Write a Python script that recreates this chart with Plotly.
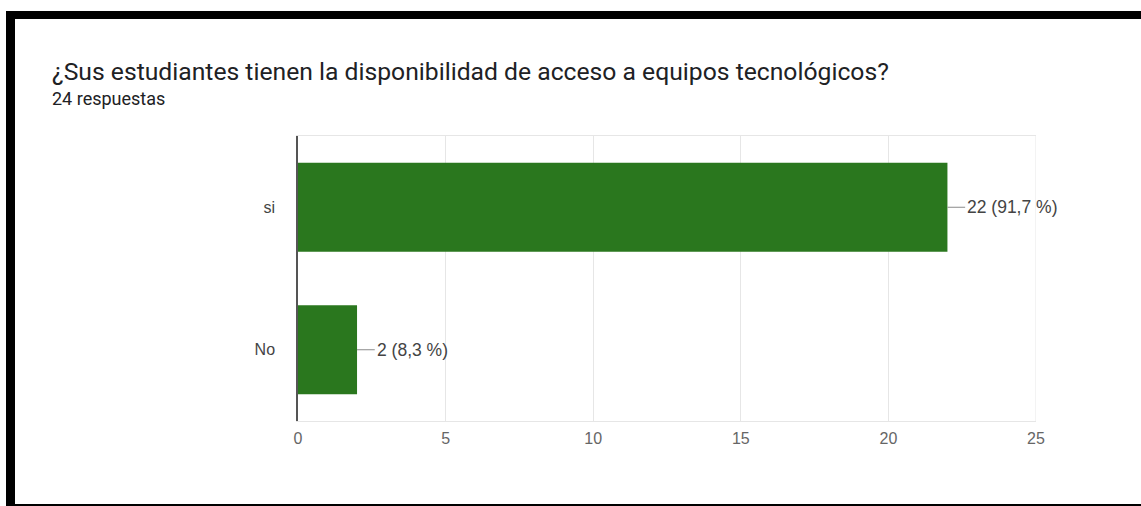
import plotly.graph_objects as go

title = "¿Sus estudiantes tienen la disponibilidad de acceso a equipos tecnológicos?"
subtitle = "24 respuestas"
categories = ["si", "No"]
values = [22, 2]
labels = ["22 (91,7 %)", "2 (8,3 %)"]
x_ticks = [0, 5, 10, 15, 20, 25]

W, H = 1141, 506
L, R, T, B = 298, 1036, 136, 421

def px(x):
    return (x - L) / (R - L)

def py(y):
    return (B - y) / (B - T)

fig = go.Figure()
fig.add_trace(go.Bar(
    y=categories, x=values, orientation="h",
    marker=dict(color="#2a771e", line=dict(width=0)),
    width=0.625, hoverinfo="skip", showlegend=False,
))

# leader lines + labels
for c, v, t in zip(categories, values, labels):
    fig.add_shape(type="line", xref="x", yref="y", x0=v, x1=v + 0.6, y0=c, y1=c,
                  line=dict(color="#8a8a8a", width=1))
    fig.add_annotation(x=v + 0.6, y=c, xref="x", yref="y", text=t, showarrow=False,
                       xanchor="left", yanchor="middle", xshift=0,
                       font=dict(family="Liberation Sans, Arial", size=17.5, color="#444444"))

# title texts
fig.add_annotation(x=px(50), y=py(72), xref="paper", yref="paper", text=title,
                   showarrow=False, xanchor="left", yanchor="middle",
                   font=dict(family="Roboto", size=24.7, color="#202124"))
fig.add_annotation(x=px(50), y=py(98), xref="paper", yref="paper", text=subtitle,
                   showarrow=False, xanchor="left", yanchor="middle",
                   font=dict(family="Roboto", size=18, color="#202124"))

# black frame pieces
for (x0, y0, x1, y1) in [(6, 11, 1141, 19), (6, 11, 15, 506), (6, 504, 1141, 506)]:
    fig.add_shape(type="rect", xref="paper", yref="paper",
                  x0=px(x0), x1=px(x1), y0=py(y0), y1=py(y1),
                  fillcolor="black", line=dict(width=0), layer="above")
# right border of plot area (light)
fig.add_shape(type="line", xref="x", yref="paper", x0=25, x1=25, y0=0, y1=1,
              line=dict(color="#e6e6e6", width=1), layer="below")

fig.update_layout(
    width=W, height=H,
    margin=dict(l=L, r=W - R, t=T, b=H - B),
    paper_bgcolor="white", plot_bgcolor="white",
    bargap=0.375,
    xaxis=dict(range=[0, 25], tickvals=x_ticks, ticktext=[str(v) for v in x_ticks],
               showgrid=True, gridcolor="#e6e6e6", gridwidth=1, zeroline=False,
               showline=True, mirror=True, linecolor="#e6e6e6", linewidth=1,
               ticks="", ticklabelstandoff=3,
               tickfont=dict(family="Liberation Sans, Arial", size=16, color="#666666")),
    yaxis=dict(categoryorder="array", categoryarray=["No", "si"],
               showgrid=False, zeroline=False, ticks="",
               showline=True, linecolor="#555555", linewidth=1.5,
               ticklabelstandoff=18,
               tickfont=dict(family="Liberation Sans, Arial", size=16, color="#444444")),
)

fig.write_html("out.html", config={"displayModeBar": False},
               post_script="document.body.style.margin='0px';")
